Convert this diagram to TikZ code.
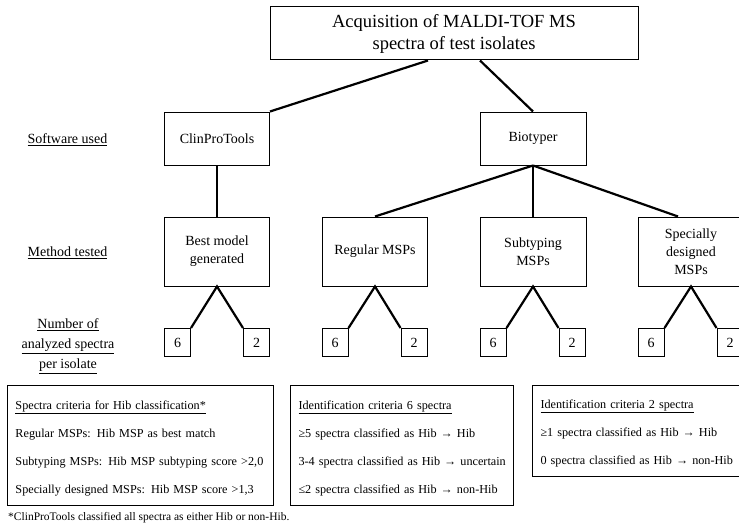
\documentclass[tikz,border=0pt]{standalone}
\usepackage{fontspec}
\setmainfont{Liberation Serif}
\begin{document}
\begin{tikzpicture}[x=1pt, y=-1pt,
        box/.style={rectangle, draw, line width=1pt, align=center, inner sep=0pt, font=\fontsize{14}{18}\selectfont},
        numbox/.style={rectangle, draw, line width=1pt, minimum width=26pt, minimum height=28pt, inner sep=0pt, font=\fontsize{14}{18}\selectfont},
        infobox/.style={rectangle, draw, line width=1pt, align=left, anchor=north west, inner xsep=8pt, inner ysep=0pt, font=\fontsize{12.2}{28}\selectfont},
        rowlabel/.style={align=center, font=\fontsize{14}{20}\selectfont},
        link/.style={line width=2.2pt}
    ]
        \useasboundingbox (0,0) rectangle (739,527);
        \clip (0,0) rectangle (739,527);

        \node[box, minimum width=368pt, minimum height=53pt, font=\fontsize{18.5}{22}\selectfont] (acq) at (454,33.5) {Acquisition of MALDI-TOF MS\\spectra of test isolates};

        \node[rowlabel] (softlbl) at (67.5,140) {\underline{Software used}};
        \node[box, minimum width=105pt, minimum height=53pt] (clin) at (217,138.5) {ClinProTools};
        \node[box, minimum width=106pt, minimum height=53pt] (biot) at (533,138.5) {Biotyper};

        \node[rowlabel] (methlbl) at (67.5,253) {\underline{Method tested}};
        \node[box, minimum width=105pt, minimum height=69pt] (best) at (217,251.5) {Best model\\generated};
        \node[box, minimum width=105pt, minimum height=69pt] (reg) at (375,251.5) {Regular MSPs};
        \node[box, minimum width=106pt, minimum height=69pt] (sub) at (533,251.5) {Subtyping\\MSPs};
        \node[box, minimum width=106pt, minimum height=69pt] (spec) at (691,251.5) {Specially\\designed\\MSPs};

        \node[rowlabel] (numlbl) at (68,346) {\underline{Number of}\\\underline{analyzed spectra}\\\underline{per isolate}};
        \node[numbox] (sixa) at (177.5,342.5) {6};
        \node[numbox] (twoa) at (256.5,342.5) {2};
        \node[numbox] (sixb) at (335,342.5) {6};
        \node[numbox] (twob) at (414,342.5) {2};
        \node[numbox] (sixc) at (493,342.5) {6};
        \node[numbox] (twoc) at (572,342.5) {2};
        \node[numbox] (sixd) at (651,342.5) {6};
        \node[numbox] (twod) at (730,342.5) {2};

        \draw[link] ([xshift=-26pt]acq.south) -- (clin.north east);
        \draw[link] ([xshift=26pt]acq.south) -- (biot.north);
        \draw[link] (clin.south) -- (best.north);
        \draw[link] (biot.south) -- (reg.north);
        \draw[link] (biot.south) -- (sub.north);
        \draw[link] (biot.south) -- ([xshift=-13pt]spec.north);

        \draw[link] (sixa.north east) -- (best.south) -- (twoa.north west);
        \draw[link] (sixb.north east) -- (reg.south) -- (twob.north west);
        \draw[link] (sixc.north east) -- (sub.south) -- (twoc.north west);
        \draw[link] (sixd.north east) -- (spec.south) -- (twod.north west);

        \node[infobox, text width=250pt, minimum height=120pt] (crit) at (7,385) {\begin{tabular}{@{}l@{}}
            \underline{Spectra criteria for Hib classification*}\\
            Regular MSPs: Hib MSP as best match\\
            Subtyping MSPs: Hib MSP subtyping score >2,0\\
            Specially designed MSPs: Hib MSP score >1,3
        \end{tabular}};
        \node[infobox, text width=207pt, minimum height=120pt] (idsix) at (290,385) {\begin{tabular}{@{}l@{}}
            \underline{Identification criteria 6 spectra}\\
            ≥5 spectra classified as Hib → Hib\\
            3-4 spectra classified as Hib → uncertain\\
            ≤2 spectra classified as Hib → non-Hib
        \end{tabular}};
        \node[infobox, text width=212pt, minimum height=91pt] (idtwo) at (532,385) {\begin{tabular}{@{}l@{}}
            \underline{Identification criteria 2 spectra}\\
            ≥1 spectra classified as Hib → Hib\\
            0 spectra classified as Hib → non-Hib
        \end{tabular}};

        \node[anchor=west, inner sep=0pt, font=\fontsize{11.5}{14}\selectfont] (note) at (8,518) {*ClinProTools classified all spectra as either Hib or non-Hib.};
    \end{tikzpicture}
\end{document}
